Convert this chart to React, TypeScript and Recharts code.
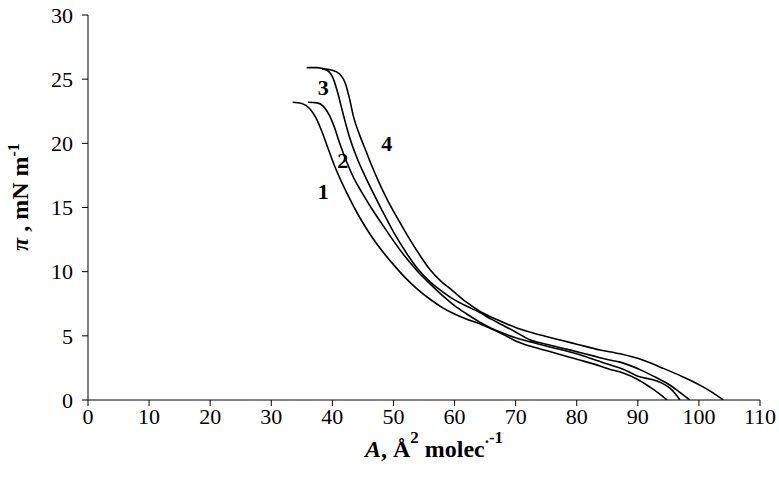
import React from "react";
import { LineChart, Line, XAxis, YAxis, ReferenceDot } from "recharts";

// surface pressure isotherms, pi (mN/m) vs A (A^2/molecule)
const X_TICKS = [0, 10, 20, 30, 40, 50, 60, 70, 80, 90, 100, 110];
const Y_TICKS = [0, 5, 10, 15, 20, 25, 30];

const CURVE_1: [number, number][] = [
  [33.5, 23.2], [35, 23.1], [36.3, 22.7], [37.3, 22.0], [38.3, 20.9], [39.3, 19.6],
  [40.4, 18.2], [42.4, 16.1], [44.5, 14.2], [46.2, 12.9], [48, 11.7], [50, 10.55],
  [52, 9.5], [54, 8.6], [56, 7.85], [58, 7.2], [60, 6.7], [62, 6.3], [64, 5.97],
  [66, 5.55], [68, 5.1], [70, 4.6], [72.3, 4.2], [75, 3.85], [78, 3.45], [81, 3.05],
  [83.8, 2.65], [85, 2.45], [87.6, 2.1], [90, 1.6], [92, 1.0], [93.5, 0.5], [94.8, 0],
];

const CURVE_2: [number, number][] = [
  [36, 23.2], [37.5, 23.15], [38.5, 22.9], [39.5, 22.2], [40.3, 21.3], [41.2, 20.0],
  [42.3, 18.6], [43.5, 17.3], [44.8, 16.2], [46.2, 15.1], [48, 13.8], [50, 12.4],
  [52.2, 11.0], [54, 10.0], [56, 9.05], [58, 8.15], [60, 7.35], [62, 6.7], [64, 6.1],
  [66, 5.6], [68, 5.2], [70, 4.85], [72.3, 4.55], [75, 4.2], [78, 3.85], [81, 3.45],
  [83.8, 3.0], [85, 2.8], [87.6, 2.4], [90, 1.85], [93, 1.5], [95.3, 0.9],
  [96.2, 0.45], [96.9, 0],
];

const CURVE_3: [number, number][] = [
  [35.8, 25.9], [37.5, 25.9], [39.1, 25.7], [40.1, 25.1], [40.9, 23.9], [41.7, 22.4],
  [42.8, 20.5], [44, 18.9], [45.2, 17.6], [46.2, 16.6], [48, 14.9], [50, 13.1],
  [52.2, 11.4], [54, 10.2], [56, 9.2], [58, 8.45], [60, 7.8], [62, 7.3], [64, 6.85],
  [66, 6.3], [68, 5.8], [70, 5.3], [72.3, 4.7], [75, 4.35], [78, 4.0], [81, 3.65],
  [83.8, 3.3], [85, 3.15], [87.1, 2.95], [90.9, 2.25], [93, 1.75], [95.3, 1.15],
  [97, 0.55], [98.5, 0],
];

const CURVE_4: [number, number][] = [
  [38.3, 25.8], [40, 25.7], [41.2, 25.4], [42.1, 24.7], [42.8, 23.5], [43.5, 22.0],
  [44.5, 20.6], [45.5, 19.4], [46.5, 18.2], [47.5, 17.1], [49, 15.6], [51.1, 13.8],
  [52.5, 12.65], [54.3, 11.3], [56, 10.15], [57.8, 9.25], [59.6, 8.55], [62, 7.6],
  [64.2, 6.9], [67, 6.25], [70, 5.65], [72.3, 5.3], [75, 4.95], [77.3, 4.67],
  [80, 4.35], [83.8, 3.9], [87.1, 3.6], [90.9, 3.1], [94, 2.5], [97.4, 1.8],
  [100, 1.2], [102, 0.65], [104, 0],
];

const CURVES = [CURVE_1, CURVE_2, CURVE_3, CURVE_4];

// curve number labels (x, y in data units)
const CURVE_LABELS: { text: string; x: number; y: number }[] = [
  { text: "1", x: 38.5, y: 16.3 },
  { text: "2", x: 41.7, y: 18.7 },
  { text: "3", x: 38.5, y: 24.4 },
  { text: "4", x: 48.9, y: 20.0 },
];

const FONT = "'Liberation Serif', 'Times New Roman', serif";

const toPoints = (rows: [number, number][]) => rows.map(([x, y]) => ({ x, y }));

export default function App() {
  const tickStyle = { fontSize: 22, fill: "#000", fontFamily: FONT };

  return (
    <div style={{ position: "absolute", left: 0, top: 0, background: "#fff" }}>
      <LineChart
        width={779}
        height={489}
        margin={{ top: 15, right: 19, left: 8, bottom: 0 }}
      >
        <XAxis
          type="number"
          dataKey="x"
          domain={[0, 110]}
          ticks={X_TICKS}
          allowDataOverflow
          height={89}
          tick={tickStyle}
          tickSize={6}
          tickMargin={2}
          stroke="#000"
          tickLine={{ stroke: "#000" }}
          label={{
            content: () => (
              <text
                x={434}
                y={457}
                textAnchor="middle"
                fontFamily={FONT}
                fontWeight="bold"
                fontSize={24}
                fill="#000"
              >
                <tspan fontStyle="italic">A</tspan>
                <tspan>, Å</tspan>
                <tspan dy={-14} fontSize={17}>2</tspan>
                <tspan dy={14}> molec</tspan>
                <tspan dy={-14} fontSize={17}>.-1</tspan>
              </text>
            ),
          }}
        />
        <YAxis
          type="number"
          dataKey="y"
          domain={[0, 30]}
          ticks={Y_TICKS}
          allowDataOverflow
          width={80}
          tick={tickStyle}
          tickSize={6}
          tickMargin={9}
          stroke="#000"
          tickLine={{ stroke: "#000" }}
          label={{
            content: () => (
              <text
                x={28}
                y={197}
                transform="rotate(-90, 28, 197)"
                textAnchor="middle"
                fontFamily={FONT}
                fontWeight="bold"
                fontSize={24}
                fill="#000"
              >
                <tspan fontStyle="italic">π</tspan>
                <tspan> , mN m</tspan>
                <tspan dy={-9} fontSize={16}>-1</tspan>
              </text>
            ),
          }}
        />
        {CURVES.map((rows, i) => (
          <Line
            key={i}
            data={toPoints(rows)}
            dataKey="y"
            type="monotone"
            stroke="#000"
            strokeWidth={1.6}
            dot={false}
            activeDot={false}
            isAnimationActive={false}
          />
        ))}
        {CURVE_LABELS.map((l) => (
          <ReferenceDot
            key={l.text}
            x={l.x}
            y={l.y}
            r={0}
            fill="none"
            stroke="none"
            label={{
              value: l.text,
              position: "center",
              fontSize: 22,
              fontWeight: "bold",
              fontFamily: FONT,
              fill: "#000",
            }}
          />
        ))}
      </LineChart>
    </div>
  );
}
